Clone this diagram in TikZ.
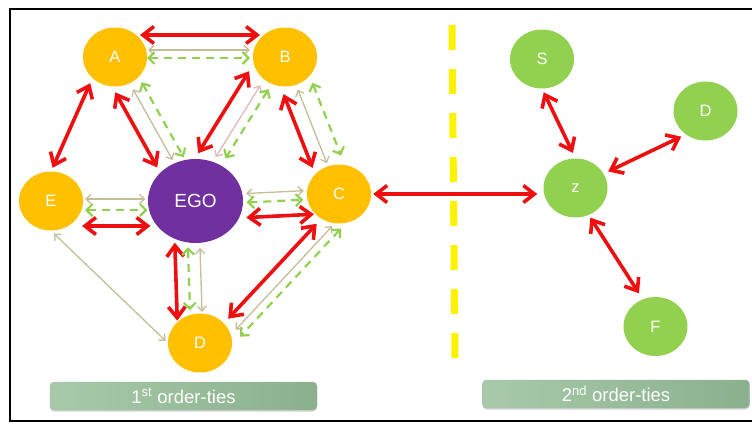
\documentclass[tikz,border=0pt]{standalone}
\usepackage{fontspec}
\setmainfont{Liberation Sans}
\usetikzlibrary{arrows.meta, calc, shapes.geometric, shadows}
\definecolor{tieorange}{RGB}{255,192,0}
\definecolor{egopurple}{RGB}{112,48,160}
\definecolor{tiegreen}{RGB}{146,208,80}
\definecolor{tiered}{RGB}{238,16,16}
\definecolor{tietan}{RGB}{196,189,151}
\definecolor{tiepink}{RGB}{222,186,186}
\definecolor{lableft}{RGB}{168,202,170}
\definecolor{labright}{RGB}{138,176,140}
\tikzset{
  redtie/.style={{Straight Barb[length=11pt,width=17pt]}-{Straight Barb[length=11pt,width=17pt]}, line width=3.6pt, draw=tiered},
  tantie/.style={{Straight Barb[length=5pt,width=9pt]}-{Straight Barb[length=5pt,width=9pt]}, line width=1.3pt, draw=tietan},
  pinktie/.style={tantie, draw=tiepink},
  greentie/.style={{Straight Barb[length=6pt,width=12pt]}-{Straight Barb[length=6pt,width=12pt]}, line width=2.2pt, draw=tiegreen, dash pattern=on 8pt off 6pt},
  person/.style={ellipse, fill=tieorange, text=white, inner sep=0pt, minimum width=64pt, minimum height=59pt},
  egonode/.style={ellipse, fill=egopurple, text=white, inner sep=0pt, minimum width=95pt, minimum height=84pt, font=\fontsize{19}{21}\selectfont},
  friend/.style={person, fill=tiegreen},
  tierlabel/.style={draw=black!30, rounded corners=4pt, left color=lableft, right color=labright, text=white,
    minimum width=267pt, minimum height=28pt, font=\fontsize{18.5}{20}\selectfont,
    drop shadow={shadow xshift=0pt, shadow yshift=-1.5pt, opacity=0.35}}
}
% style, from, to, side offset, shorten at from, shorten at to
\newcommand{\drawtie}[6]{%
  \draw[#1, shorten <=#5pt, shorten >=#6pt] ($(#2)!#4pt!90:(#3)$) -- ($(#3)!#4pt!-90:(#2)$);}

\begin{document}
\begin{tikzpicture}[x=1pt, y=-1pt, font=\fontsize{16.5}{18}\selectfont]
\useasboundingbox (0,0) rectangle (752,423);
\draw[line width=2.2pt] (752,9) -| (10,421) -- (752,421);
\draw[yellow, line width=7pt, dash pattern=on 25pt off 19pt] (452,25) -- (455,358);

% first order
\node[person] (A) at (115,57) {A};
\node[person] (B) at (285,57) {B};
\node[egonode] (EGO) at (195.5,201) {EGO};
\node[person] (C) at (339,194) {C};
\node[person] (E) at (51,201) {E};
\node[person] (D) at (200,343) {D};

% second order
\node[friend] (S) at (542,59) {S};
\node[friend] (Z) at (575.5,188) {z};
\node[friend] (D2) at (705.5,111) {D};
\node[friend] (F) at (655.5,326.5) {F};

\drawtie{redtie}{A}{B}{22}{25}{25}
\drawtie{tantie}{A}{B}{7}{33}{35}
\drawtie{greentie}{A}{B}{-1}{32}{35}
\drawtie{redtie}{A}{E}{-12}{34}{31}
\drawtie{redtie}{A}{EGO}{-17}{31}{48}
\drawtie{tantie}{A}{EGO}{0}{37}{47}
\drawtie{greentie}{A}{EGO}{11}{35}{44}
\drawtie{redtie}{B}{EGO}{-23}{31}{42}
\drawtie{pinktie}{B}{EGO}{-6}{37}{48}
\drawtie{greentie}{B}{EGO}{3}{36}{52}
\drawtie{redtie}{B}{C}{-15}{34}{34}
\drawtie{tantie}{B}{C}{0}{35}{33}
\drawtie{greentie}{B}{C}{16}{34}{35}
\drawtie{tantie}{E}{EGO}{2}{34}{50}
\drawtie{greentie}{E}{EGO}{-9}{34}{48}
\drawtie{redtie}{E}{EGO}{-25}{31}{45}
\drawtie{tantie}{EGO}{C}{5}{51}{35}
\drawtie{greentie}{EGO}{C}{-4}{51}{36}
\drawtie{redtie}{EGO}{C}{-19}{50}{26}
\drawtie{redtie}{EGO}{D}{-22}{41}{23}
\drawtie{greentie}{EGO}{D}{-9}{46}{33}
\drawtie{tantie}{EGO}{D}{3}{47}{31}
\drawtie{redtie}{C}{D}{4}{37}{37}
\drawtie{tantie}{C}{D}{17}{28}{34}
\drawtie{greentie}{C}{D}{25}{24}{32}
\draw[tantie, shorten <=4pt, shorten >=3pt] (E.south) -- (D.west);

\draw[redtie, shorten <=2pt, shorten >=6pt] (C.east) -- (C.east -| Z.west);
\draw[redtie, shorten <=4pt, shorten >=6pt] (S.south) -- (Z.north);
\draw[redtie, shorten <=5pt, shorten >=5pt] (Z.27) -- (D2.230);
\draw[redtie, shorten <=3pt, shorten >=7pt] (Z.-64) -- (F.115);

\node[tierlabel] (first) at (183.5,396) {1\textsuperscript{st} order-ties};
\node[tierlabel] (second) at (616,394) {2\textsuperscript{nd} order-ties};
\end{tikzpicture}
\end{document}
